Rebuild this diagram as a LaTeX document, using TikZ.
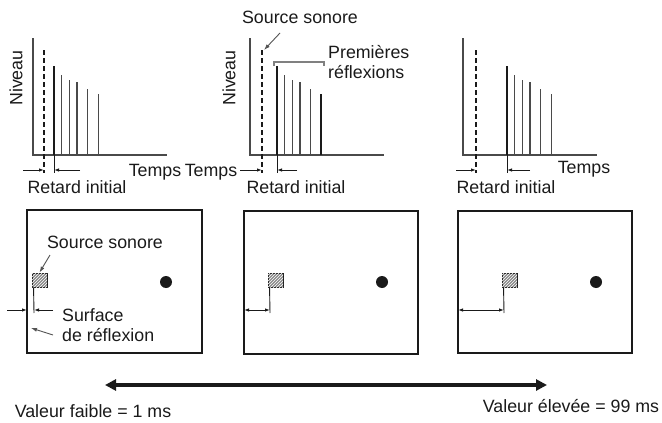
\documentclass[tikz,border=0pt]{standalone}
\usepackage{fontspec}
\setmainfont{Liberation Sans}
\usepackage{tikz}
\usetikzlibrary{arrows.meta,patterns,positioning}
\definecolor{ink}{HTML}{1A1A1A}
\definecolor{bargray}{HTML}{4A4A4A}
\definecolor{hatch}{HTML}{8A8A8A}

\begin{document}
\begin{tikzpicture}[
  x=1pt,y=-1pt,
  every node/.style={font=\fontsize{17.8}{20}\selectfont,inner sep=0pt,text=ink},
  axis/.style={draw=bargray,line width=1.5pt},
  bar/.style={draw=bargray,line width=1.8pt},
  firstbar/.style={draw=ink,line width=2.6pt},
  direct/.style={draw=ink,line width=1.1pt,dash pattern=on 5pt off 3pt},
  tick/.style={draw=ink,line width=0.9pt},
  dim/.style={draw=ink,line width=0.9pt,-{Latex[length=5pt,width=3.5pt]}},
  dimboth/.style={draw=ink,line width=0.9pt,{Latex[length=5pt,width=3.5pt]}-{Latex[length=5pt,width=3.5pt]}},
  lead/.style={draw=ink!75,line width=0.9pt,-{Latex[length=6pt,width=4pt]}},
  room/.style={draw=ink,line width=2.3pt},
  srcbox/.style={draw=ink,line width=0.9pt,fill=hatch,minimum width=15pt,minimum height=14pt,
    postaction={pattern=north east lines,pattern color=white}},
  listener/.style={circle,fill=ink,minimum size=12pt},
  delayaxis/.style={draw=ink,line width=3.5pt,{Triangle[length=11pt,width=11pt]}-{Triangle[length=11pt,width=11pt]}}
]
\useasboundingbox (0,0) rectangle (662,423);

% reflection diagrams
\foreach \g/\ax/\ds/\fb in {1/33/44/54, 2/250/262/277, 3/463/476/507}{
  \draw[axis] (\ax,38) -- (\ax,155) -- (\ax+134,155);
  \draw[direct] (\ds,50) -- (\ds,173);
  \foreach \dx/\h in {7.5/75, 15.5/80, 23/82, 33.5/89, 44.5/94}
    \draw[bar] (\fb+\dx,\h) -- (\fb+\dx,155);
  \draw[firstbar] (\fb,66) -- (\fb,155);
  \draw[tick] (\fb,155) -- (\fb,173);
  \coordinate (d\g) at (\ds,170);
  \coordinate (r\g) at (\fb,170);
}
\draw[firstbar] (321,94) -- (321,155);

\coordinate (d1l) at (23,170);  \coordinate (r1r) at (80,170);
\coordinate (d2l) at (240,170); \coordinate (r2r) at (297,170);
\coordinate (d3l) at (456,170); \coordinate (r3r) at (530,170);
\foreach \g in {1,2,3}{
  \draw[dim] (d\g l) -- (d\g);
  \draw[dim] (r\g r) -- (r\g);
}

\node[rotate=90] (niv1) at (16,78) {Niveau};
\node[rotate=90] (niv2) at (229,78) {Niveau};
\node (tps1) at (155,172) {Temps};
\node (tps2) at (211,172) {Temps};
\node (tps3) at (584,169) {Temps};
\node (ret1) at (77,187) {Retard initial};
\node (ret2) at (296,187) {Retard initial};
\node (ret3) at (506,187) {Retard initial};

\node (srctop) at (300,17) {Source sonore};
\coordinate (srctip) at (264,50);
\draw[lead] (280,33) -- (srctip);
\node[align=left,anchor=west] (refl) at (328,62) {Premières\\réflexions};
\draw[draw=bargray!70,line width=1.1pt] (274,66) -- (274,62) -- (324,62) -- (324,66);

% rooms
\draw[room] (27,210) rectangle (202,353);
\draw[room] (244,211) rectangle (418,354);
\draw[room] (458,211) rectangle (632,353);

\foreach \r/\sx/\wx/\lx in {1/39.5/27/166, 2/275.5/244/382, 3/509.5/458/596}{
  \node[srcbox] (src\r) at (\sx,280) {};
  \node[listener] (lis\r) at (\lx,282) {};
  \coordinate (foot\r) at (\sx-5.5,313);
  \coordinate (wall\r) at (\wx,310);
  \draw[tick] (src\r.south west) ++(2,0) -- (foot\r);
}
\coordinate (line2) at (270,310);
\coordinate (line3) at (504,310);
\draw[dimboth] (wall2) -- (line2);
\draw[dimboth] (wall3) -- (line3);

\coordinate (out1) at (7,310);
\coordinate (line1) at (34,310);
\coordinate (in1) at (53,310);
\draw[dim] (out1) -- (wall1);
\draw[dim] (in1) -- (line1);

\node (srclab) at (105,242) {Source sonore};
\draw[lead] (50,255) -- (src1.north);
\node[align=left,anchor=west] (surf) at (62,325) {Surface\\de réflexion};
\draw[lead] (53,335) -- (31,328);

% delay scale
\coordinate (lo) at (105,385);
\coordinate (hi) at (547,385);
\draw[delayaxis] (lo) -- (hi);
\node (low) at (93,411) {Valeur faible = 1 ms};
\node (high) at (571,406) {Valeur élevée = 99 ms};
\end{tikzpicture}
\end{document}
